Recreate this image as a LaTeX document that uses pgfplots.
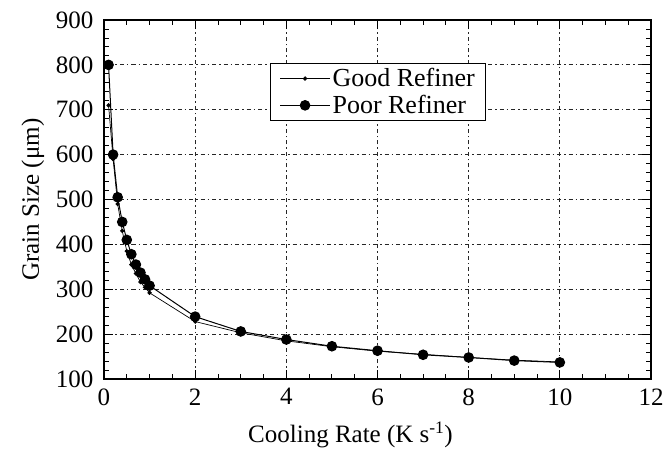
\documentclass[border=0pt]{standalone}
\usepackage{pgfplots}
\pgfplotsset{compat=1.18}
\usetikzlibrary{calc}
\usepackage{fontspec}
\setmainfont{Liberation Serif}

% Grain size against cooling rate for two refiner grades
\pgfplotstableread{
x     y
0.1   710
0.2   590
0.3   490
0.4   430
0.5   385
0.6   355
0.7   335
0.8   316
0.9   304
1.0   292
2     228
3     203
4     185
5     172
6     162
7     155
8     148
9     142
10    138
}\goodref
\pgfplotstableread{
x     y
0.1   800
0.2   600
0.3   505
0.4   450
0.5   410
0.6   378
0.7   355
0.8   337
0.9   322
1.0   308
2     239
3     206
4     188
5     173
6     163
7     154
8     148
9     141
10    137
}\poorref

\begin{document}
\begin{tikzpicture}
\begin{axis}[
  name=ax,
  scale only axis,
  width=547pt, height=359pt,
  xmin=0, xmax=12, ymin=100, ymax=900,
  xtick={0,2,...,12}, ytick={100,200,...,900},
  minor x tick num=3, minor y tick num=4,
  tick align=inside,
  major tick length=9pt, minor tick length=5pt,
  axis line style={line width=1.3pt},
  every tick/.style={black, line width=0.9pt},
  grid=major,
  major grid style={black!85, line width=0.8pt, dash pattern=on 1.5pt off 3pt on 4pt off 3pt},
  font=\fontsize{25}{29}\selectfont,
  tick label style={font=\fontsize{25}{29}\selectfont},
  yticklabel style={xshift=-7pt},
  xticklabel style={yshift=-6pt},
  /pgf/number format/assume math mode=true,
  xlabel={Cooling Rate (K s\textsuperscript{-1})},
  ylabel={Grain Size (μm)},
  xlabel style={xshift=-27pt, yshift=-10pt},
  ylabel style={yshift=5pt},
  legend style={at={(rel axis cs:0.3035,0.880)}, anchor=north west,
    draw=black, line width=1.1pt, font=\fontsize{26}{28}\selectfont,
    row sep=3pt, inner xsep=9pt, inner ysep=3pt,
    /tikz/every even column/.append style={column sep=4pt}},
  legend cell align=left,
  legend image code/.code={%
    \draw[mark repeat=2, mark phase=2, #1]
      plot coordinates {(0pt,0pt) (25pt,0pt) (50pt,0pt)};},
]
\addplot[black, line width=0.7pt, mark=*, mark size=1.8pt] table[x=x,y=y]{\goodref};
\addlegendentry{Good Refiner}
\addplot[black, line width=1pt, mark=*, mark size=4.8pt] table[x=x,y=y]{\poorref};
\addlegendentry{Poor Refiner}
\end{axis}
\pgfresetboundingbox
\path ($(ax.south west)+(-104pt,-76pt)$) rectangle ($(ax.north east)+(14pt,20pt)$);
\end{tikzpicture}
\end{document}
